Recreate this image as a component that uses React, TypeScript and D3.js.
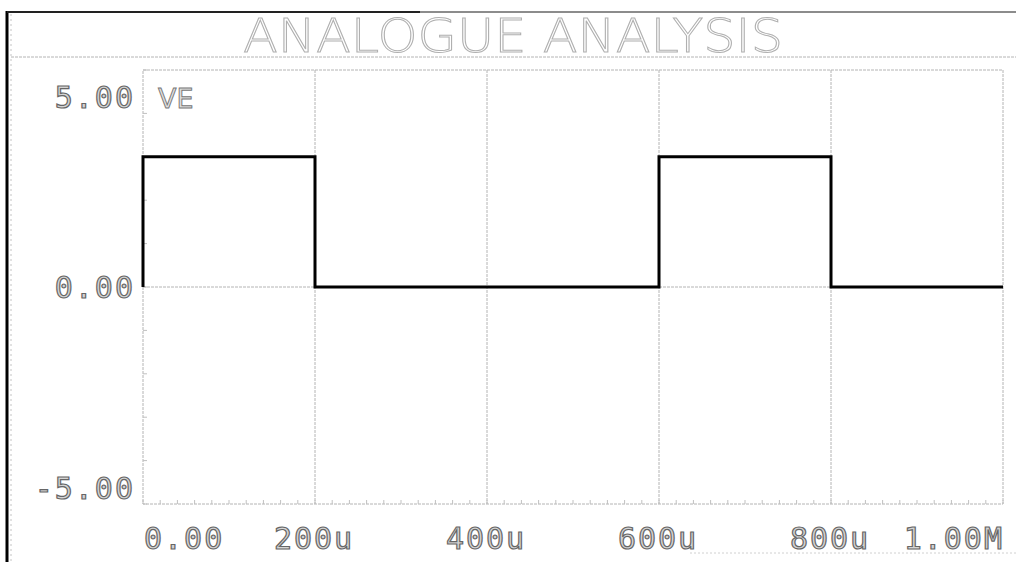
import React, { useEffect, useRef } from 'react';
import * as d3 from 'd3';

// time in microseconds, voltage in volts (step after)
const times = [0, 0, 200, 400, 600, 800, 1000];
const volts = [0, 3, 0, 0, 3, 0, 0];

const xTicks = [0, 200, 400, 600, 800, 1000];
const xTickLabels = ['0.00', '200u', '400u', '600u', '800u', '1.00M'];
const yTicks = [5, 0, -5];
const yTickLabels = ['5.00', '0.00', '-5.00'];
const title = 'ANALOGUE ANALYSIS';
const traceName = 'VE';

const App = () => {
  const svgRef = useRef<SVGSVGElement>(null);

  useEffect(() => {
    const width = 1016;
    const height = 562;
    const plot = { left: 143, right: 1003, top: 70, bottom: 504 };

    svgRef.current!.innerHTML = '';
    const svg = d3.select(svgRef.current)
      .attr('width', width)
      .attr('height', height);

    svg.append('rect').attr('width', width).attr('height', height).attr('fill', '#fff');

    const x = d3.scaleLinear().domain([0, 1000]).range([plot.left, plot.right]);
    const y = d3.scaleLinear().domain([-5, 5]).range([plot.bottom, plot.top]);

    const grid = '#b4b4b4';
    const dash = '3 1';

    // outer frame
    svg.append('line').attr('x1', 7).attr('x2', 7).attr('y1', 11).attr('y2', height)
      .attr('stroke', '#000').attr('stroke-width', 3);
    svg.append('line').attr('x1', 7).attr('x2', 420).attr('y1', 12).attr('y2', 12)
      .attr('stroke', '#222').attr('stroke-width', 1.8);
    svg.append('line').attr('x1', 420).attr('x2', width).attr('y1', 12).attr('y2', 12)
      .attr('stroke', '#666').attr('stroke-width', 1.4);
    svg.append('line').attr('x1', 11).attr('x2', 11).attr('y1', 14).attr('y2', height)
      .attr('stroke', '#c4c4c4').attr('stroke-dasharray', '2 3');
    svg.append('line').attr('x1', 11).attr('x2', width).attr('y1', 57).attr('y2', 57)
      .attr('stroke', grid).attr('stroke-dasharray', dash);
    svg.append('line').attr('x1', 690).attr('x2', width).attr('y1', 553).attr('y2', 553)
      .attr('stroke', '#d0d0d0').attr('stroke-dasharray', '2 2');

    // title
    svg.append('text')
      .attr('x', 513).attr('y', 52)
      .attr('text-anchor', 'middle')
      .attr('font-family', 'DejaVu Sans')
      .attr('font-size', 46)
      .attr('font-weight', 200)
      .attr('fill', '#fff')
      .attr('stroke', '#b0b0b0')
      .attr('stroke-width', 1)
      .attr('textLength', 540)
      .attr('lengthAdjust', 'spacingAndGlyphs')
      .text(title);

    // plot frame
    svg.append('rect')
      .attr('x', plot.left).attr('y', plot.top)
      .attr('width', plot.right - plot.left).attr('height', plot.bottom - plot.top)
      .attr('fill', 'none').attr('stroke', grid).attr('stroke-dasharray', dash);

    // vertical grid
    svg.append('g').selectAll('line')
      .data(xTicks.slice(1, -1))
      .enter().append('line')
      .attr('x1', d => x(d)).attr('x2', d => x(d))
      .attr('y1', plot.top).attr('y2', plot.bottom)
      .attr('stroke', grid).attr('stroke-dasharray', dash);

    // horizontal grid at 0
    svg.append('line')
      .attr('x1', plot.left).attr('x2', plot.right)
      .attr('y1', y(0)).attr('y2', y(0))
      .attr('stroke', grid).attr('stroke-dasharray', dash);

    // minor ticks
    svg.append('g').selectAll('line')
      .data(d3.range(0, 1001, 20))
      .enter().append('line')
      .attr('x1', d => x(d)).attr('x2', d => x(d))
      .attr('y1', plot.bottom).attr('y2', plot.bottom - 4)
      .attr('stroke', '#c0c0c0');
    svg.append('g').selectAll('line')
      .data(d3.range(-5, 5.01, 1))
      .enter().append('line')
      .attr('x1', plot.left).attr('x2', plot.left + 4)
      .attr('y1', d => y(d)).attr('y2', d => y(d))
      .attr('stroke', '#c0c0c0');

    const labelFont = (sel: any) => sel
      .attr('font-family', 'DejaVu Sans Mono')
      .attr('font-size', 30)
      .attr('fill', '#d4d4d4')
      .attr('stroke', '#666')
      .attr('stroke-width', 1.2)
      .attr('letter-spacing', 2);

    // y labels, kept inside the plot's vertical extent
    svg.append('g').selectAll('text')
      .data(yTicks)
      .enter().append('text')
      .attr('x', plot.left - 8)
      .attr('y', d => Math.min(Math.max(y(d), plot.top + 27), plot.bottom - 16) + 11)
      .attr('text-anchor', 'end')
      .call(labelFont)
      .text((d, i) => yTickLabels[i]);

    // x labels
    svg.append('g').selectAll('text')
      .data(xTicks)
      .enter().append('text')
      .attr('x', (d, i) => i === 0 ? plot.left + 1 : i === xTicks.length - 1 ? plot.right + 1 : x(d) - 1)
      .attr('y', 549)
      .attr('text-anchor', (d, i) => i === 0 ? 'start' : i === xTicks.length - 1 ? 'end' : 'middle')
      .call(labelFont)
      .text((d, i) => xTickLabels[i]);

    // trace name
    svg.append('text')
      .attr('x', 158).attr('y', 108)
      .attr('font-family', 'DejaVu Sans')
      .attr('font-size', 27)
      .attr('fill', '#e0e0e0')
      .attr('stroke', '#777')
      .attr('stroke-width', 0.9)
      .text(traceName);

    // waveform
    const line = d3.line<number>()
      .x((d, i) => x(times[i]))
      .y(d => y(d))
      .curve(d3.curveStepAfter);
    svg.append('path')
      .datum(volts)
      .attr('d', line)
      .attr('fill', 'none')
      .attr('stroke', '#000')
      .attr('stroke-width', 3);
  }, []);

  return <svg ref={svgRef} style={{ position: 'absolute', left: 0, top: 0 }}></svg>;
};

export default App;
